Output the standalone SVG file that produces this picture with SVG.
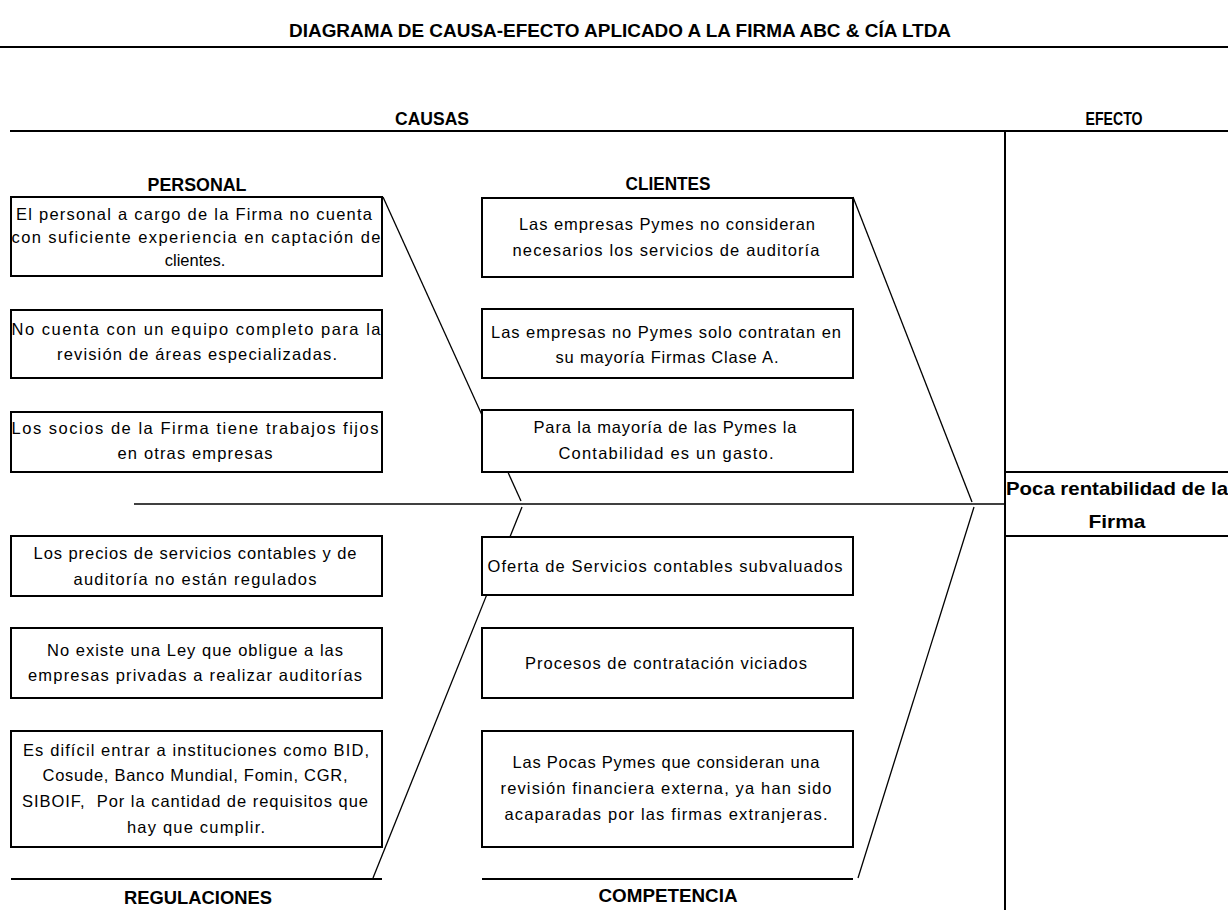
<svg xmlns="http://www.w3.org/2000/svg" width="1228" height="910" viewBox="0 0 1228 910">
<style>
.bx{fill:#fff;stroke:#000;stroke-width:2}
.t{font-family:"Liberation Sans",Arial,sans-serif;font-size:16.5px;fill:#000;text-anchor:middle;dominant-baseline:central}
.h{font-family:"Liberation Sans",Arial,sans-serif;font-size:18.5px;font-weight:bold;fill:#000;text-anchor:middle;dominant-baseline:central}
.ln{stroke:#000;stroke-width:2;fill:none}
.thin{stroke:#000;stroke-width:1.3;fill:none}
</style>
<rect width="1228" height="910" fill="#fff"/>
<g id="title">
<text class="h" x="620" y="30" textLength="662" lengthAdjust="spacingAndGlyphs">DIAGRAMA DE CAUSA-EFECTO  APLICADO A LA FIRMA ABC &amp; CÍA LTDA</text>
<line class="ln" x1="0" y1="47" x2="1228" y2="47"/>
</g>
<g id="headers">
<text class="h" x="432" y="118" textLength="74" lengthAdjust="spacingAndGlyphs">CAUSAS</text>
<text class="h" x="1114" y="118" textLength="57" lengthAdjust="spacingAndGlyphs">EFECTO</text>
<line class="ln" x1="10" y1="131" x2="1228" y2="131"/>
<line class="ln" x1="1005" y1="131" x2="1005" y2="910"/>
</g>
<g id="connectors">
<line class="thin" x1="134" y1="504" x2="1005" y2="504" stroke-width="1.6"/>
<line class="thin" x1="383" y1="197" x2="521" y2="501"/>
<line class="thin" x1="373" y1="878" x2="522" y2="507"/>
<line class="thin" x1="853" y1="197" x2="972" y2="502"/>
<line class="thin" x1="858" y1="878" x2="974" y2="507"/>
</g>
<g id="effect">
<line class="ln" x1="1005" y1="472" x2="1228" y2="472"/>
<line class="ln" x1="1005" y1="536" x2="1228" y2="536"/>
<text class="h" x="1117" y="488" font-size="19" textLength="222" lengthAdjust="spacingAndGlyphs">Poca rentabilidad de la</text>
<text class="h" x="1117" y="521" font-size="19" textLength="57" lengthAdjust="spacingAndGlyphs">Firma</text>
</g>
<g id="personal">
<text class="h" x="197" y="184" textLength="99" lengthAdjust="spacingAndGlyphs">PERSONAL</text>
</g>
<g id="p1">
<rect class="bx" x="11" y="197" width="371" height="79"/>
<text class="t" x="194" y="214" textLength="356" lengthAdjust="spacing">El personal a cargo de la Firma no cuenta</text>
<text class="t" x="196" y="237" textLength="369" lengthAdjust="spacing">con suficiente experiencia en captación de</text>
<text class="t" x="195" y="260">clientes.</text>
</g>
<g id="p2">
<rect class="bx" x="11" y="310" width="371" height="68"/>
<text class="t" x="196" y="329" textLength="369" lengthAdjust="spacing">No cuenta con un equipo completo para la</text>
<text class="t" x="197" y="354" textLength="280" lengthAdjust="spacing">revisión de áreas especializadas.</text>
</g>
<g id="p3">
<rect class="bx" x="11" y="412" width="371" height="60"/>
<text class="t" x="195" y="428" textLength="367" lengthAdjust="spacing">Los socios de la Firma tiene trabajos fijos</text>
<text class="t" x="195" y="453" textLength="155" lengthAdjust="spacing">en otras empresas</text>
</g>
<g id="clientes">
<text class="h" x="668" y="183" textLength="85" lengthAdjust="spacingAndGlyphs">CLIENTES</text>
</g>
<g id="c1">
<rect class="bx" x="482" y="198" width="371" height="79"/>
<text class="t" x="667" y="224" textLength="296" lengthAdjust="spacing">Las empresas Pymes no consideran</text>
<text class="t" x="666" y="250" textLength="307" lengthAdjust="spacing">necesarios los servicios de auditoría</text>
</g>
<g id="c2">
<rect class="bx" x="482" y="309" width="371" height="69"/>
<text class="t" x="666" y="332" textLength="350" lengthAdjust="spacing">Las empresas no Pymes solo contratan en</text>
<text class="t" x="667" y="357" textLength="223" lengthAdjust="spacing">su mayoría Firmas Clase A.</text>
</g>
<g id="c3">
<rect class="bx" x="482" y="410" width="371" height="62"/>
<text class="t" x="665" y="427" textLength="263" lengthAdjust="spacing">Para la mayoría de las Pymes la</text>
<text class="t" x="666" y="453" textLength="215" lengthAdjust="spacing">Contabilidad es un gasto.</text>
</g>
<g id="r1">
<rect class="bx" x="11" y="536" width="371" height="60"/>
<text class="t" x="195" y="553" textLength="323" lengthAdjust="spacing">Los precios de servicios contables y de</text>
<text class="t" x="195" y="579" textLength="243" lengthAdjust="spacing">auditoría no están regulados</text>
</g>
<g id="r2">
<rect class="bx" x="11" y="628" width="371" height="70"/>
<text class="t" x="195" y="650" textLength="296" lengthAdjust="spacing">No existe una Ley que obligue a las</text>
<text class="t" x="195" y="675" textLength="334" lengthAdjust="spacing">empresas privadas a realizar auditorías</text>
</g>
<g id="r3">
<rect class="bx" x="11" y="731" width="371" height="116"/>
<text class="t" x="196" y="750" textLength="346" lengthAdjust="spacing">Es difícil entrar a instituciones como BID,</text>
<text class="t" x="195" y="775" textLength="305" lengthAdjust="spacing">Cosude, Banco Mundial, Fomin, CGR,</text>
<text class="t" x="195" y="801" textLength="346" lengthAdjust="spacing" xml:space="preserve">SIBOIF,  Por la cantidad de requisitos que</text>
<text class="t" x="196" y="827" textLength="138" lengthAdjust="spacing">hay que cumplir.</text>
</g>
<g id="regulaciones">
<line class="ln" x1="11" y1="879" x2="382" y2="879" stroke-width="3"/>
<text class="h" x="198" y="897" textLength="148" lengthAdjust="spacingAndGlyphs">REGULACIONES</text>
</g>
<g id="k1">
<rect class="bx" x="482" y="537" width="371" height="58"/>
<text class="t" x="665" y="566" textLength="355" lengthAdjust="spacing">Oferta de Servicios contables subvaluados</text>
</g>
<g id="k2">
<rect class="bx" x="482" y="628" width="371" height="70"/>
<text class="t" x="666" y="663" textLength="282" lengthAdjust="spacing">Procesos de contratación viciados</text>
</g>
<g id="k3">
<rect class="bx" x="482" y="731" width="371" height="116"/>
<text class="t" x="666" y="762" textLength="307" lengthAdjust="spacing">Las Pocas Pymes que consideran una</text>
<text class="t" x="666" y="788" textLength="331" lengthAdjust="spacing">revisión financiera externa, ya han sido</text>
<text class="t" x="666" y="814" textLength="323" lengthAdjust="spacing">acaparadas por las firmas extranjeras.</text>
</g>
<g id="competencia">
<line class="ln" x1="482" y1="879" x2="853" y2="879" stroke-width="3"/>
<text class="h" x="668" y="895" textLength="139" lengthAdjust="spacingAndGlyphs">COMPETENCIA</text>
</g>
</svg>
